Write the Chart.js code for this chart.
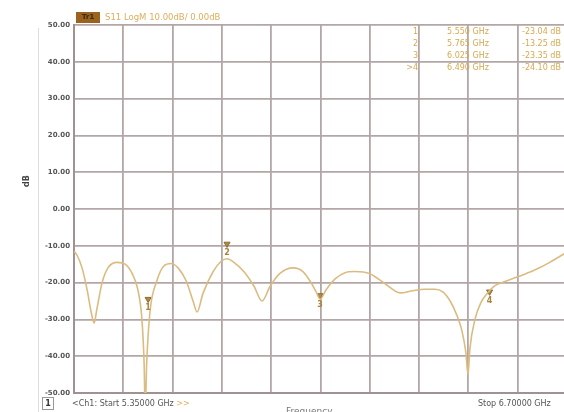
<!DOCTYPE html>
<html>
<head>
<meta charset="utf-8">
<script src="https://cdn.jsdelivr.net/npm/chart.js@4.4.1/dist/chart.umd.min.js"></script>
<style>
  html,body{margin:0;padding:0;background:#fff;overflow:hidden;}
  #wrap{position:relative;width:572px;height:412px;font-family:"DejaVu Sans",sans-serif;}
  #c{position:absolute;left:0;top:0;}
  .t{position:absolute;white-space:nowrap;font-size:8px;line-height:10px;}
  .vline{position:absolute;left:38px;top:28px;width:1px;height:384px;background:#ddd;}
</style>
</head>
<body>
<div id="wrap">
  <div class="vline"></div>
  <canvas id="c" width="572" height="412"></canvas>
  <div class="t" style="left:76px;top:12px;width:24px;height:11px;background:#9a6420;color:#3a2a10;font-weight:bold;text-align:center;font-size:7px;line-height:11px;">Tr1</div>
  <div class="t" style="left:105px;top:12px;color:#dcae5c;font-size:8.5px;line-height:11px;">S11 LogM 10.00dB/ 0.00dB</div>
  <div id="mtab"></div>
  <div class="t" style="left:21px;top:176px;color:#444;font-weight:bold;font-size:8px;transform:rotate(-90deg);">dB</div>
  <div class="t" style="left:42px;top:397px;width:10px;height:11px;border:1px solid #999;color:#333;font-weight:bold;text-align:center;line-height:11px;">1</div>
  <div class="t" style="left:72px;top:399px;color:#555;font-size:8px;">&lt;Ch1: Start 5.35000 GHz <span style="color:#e0b060">&gt;&gt;</span></div>
  <div class="t" style="left:478px;top:399px;color:#555;font-size:8px;">Stop 6.70000 GHz</div>
  <div class="t" style="left:286px;top:406px;color:#777;font-size:9px;">Frequency</div>
</div>
<script>
// ---- data ----
const freqGHz = [5.350,5.358,5.372,5.386,5.397,5.405,5.413,5.427,5.443,5.468,5.490,5.509,5.525,5.536,5.542,5.545,5.549,5.558,5.577,5.596,5.616,5.635,5.657,5.676,5.687,5.703,5.731,5.753,5.769,5.788,5.815,5.843,5.865,5.887,5.914,5.950,5.977,5.999,6.013,6.024,6.040,6.065,6.092,6.119,6.160,6.202,6.243,6.278,6.311,6.338,6.360,6.380,6.399,6.412,6.423,6.429,6.434,6.448,6.464,6.481,6.500,6.516,6.563,6.607,6.653,6.700];
const s11dB   = [-11.5,-12.5,-16,-22,-28,-31,-27,-20,-16,-14.5,-15,-17.5,-22,-30,-42,-55,-42,-28,-19.5,-15.5,-14.8,-16,-19.5,-25,-28,-23,-17,-14.2,-13.5,-14.5,-17,-21,-25,-21,-17.5,-16,-17,-20,-22.5,-24.5,-22,-19,-17.3,-17,-17.6,-20.3,-22.8,-22.2,-21.8,-21.8,-22.5,-25,-29,-33,-39,-45,-38,-30,-25.5,-23,-21,-20.2,-18.5,-16.8,-14.5,-11.7];
const markerIds   = ["1","2","3",">4"];
const markerFreq  = [5.553,5.769,6.024,6.488];
const markerDb    = [-24.5,-9.5,-23.5,-22.5];
const markerFreqText = ["5.550 GHz","5.765 GHz","6.025 GHz","6.490 GHz"];
const markerValText  = ["-23.04 dB","-13.25 dB","-23.35 dB","-24.10 dB"];
const xTicks = [5.35,5.485,5.62,5.755,5.89,6.025,6.16,6.295,6.43,6.565,6.70];
const yTicks = [-50,-40,-30,-20,-10,0,10,20,30,40,50];

// marker table
const mt = document.getElementById('mtab');
markerIds.forEach((id,i)=>{
  const y = 27 + i*12;
  mt.insertAdjacentHTML('beforeend',
    `<div class="t" style="left:398px;top:${y}px;width:20px;text-align:right;color:#d8a850;">${id}</div>`+
    `<div class="t" style="left:447px;top:${y}px;color:#d8a850;">${markerFreqText[i]}</div>`+
    `<div class="t" style="left:522px;top:${y}px;color:#d8a850;">${markerValText[i]}</div>`);
});

const markerLabels = {
  id:'markerLabels',
  afterDatasetsDraw(chart){
    const {ctx, scales:{x,y}} = chart;
    ctx.save();
    ctx.fillStyle = '#a8843e';
    ctx.font = 'bold 8px "DejaVu Sans"';
    ctx.textAlign = 'center';
    ctx.textBaseline = 'middle';
    markerFreq.forEach((f,i)=>{
      ctx.fillText(String(i+1), x.getPixelForValue(f), y.getPixelForValue(markerDb[i]) + 9);
    });
    ctx.restore();
  }
};

new Chart(document.getElementById('c'), {
  type:'line',
  data:{
    datasets:[
      {
        data: freqGHz.map((f,i)=>({x:f,y:s11dB[i]})),
        borderColor:'#dcbb80',
        borderWidth:1.6,
        pointRadius:0,
        cubicInterpolationMode:'monotone',
        fill:false
      },
      {
        type:'scatter',
        data: markerFreq.map((f,i)=>({x:f,y:markerDb[i]})),
        pointStyle:'triangle',
        rotation:180,
        pointRadius:3.5,
        backgroundColor:'#b08a48',
        borderColor:'#8a6a30',
        borderWidth:1
      }
    ]
  },
  plugins:[markerLabels],
  options:{
    responsive:false,
    animation:false,
    devicePixelRatio:1,
    layout:{padding:{left:0,right:5,top:25,bottom:19}},
    plugins:{legend:{display:false},tooltip:{enabled:false}},
    scales:{
      x:{
        type:'linear', min:5.35, max:6.70,
        afterBuildTicks:s=>{ s.ticks = xTicks.map(v=>({value:v})); },
        afterFit:s=>{ s.height = 0; },
        ticks:{display:false},
        grid:{color:'#b3a6a6',lineWidth:1.8,drawTicks:false},
        border:{color:'#a09292',width:2}
      },
      y:{
        min:-50, max:50,
        afterBuildTicks:s=>{ s.ticks = yTicks.map(v=>({value:v})); },
        afterFit:s=>{ s.width = 74; },
        ticks:{
          callback:v=>Number(v).toFixed(2),
          color:'#555', font:{family:'DejaVu Sans',size:7,weight:'bold'}, padding:4
        },
        grid:{color:'#b3a6a6',lineWidth:1.8,drawTicks:false},
        border:{color:'#a09292',width:2}
      }
    }
  }
});
</script>
</body>
</html>
